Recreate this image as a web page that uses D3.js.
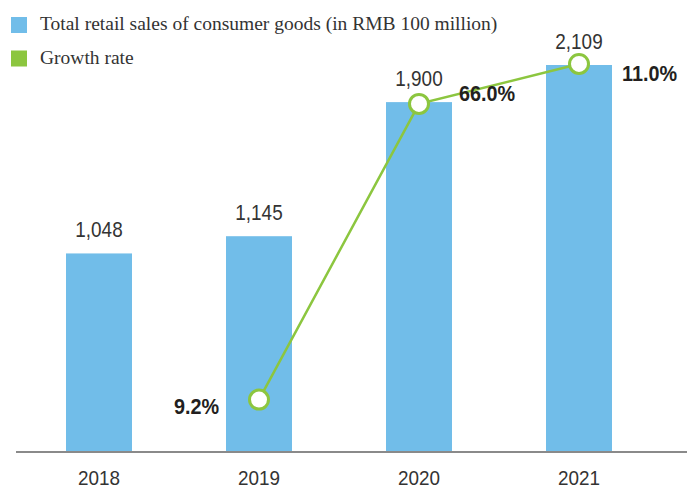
<!DOCTYPE html>
<html>
<head>
<meta charset="utf-8">
<script src="https://cdn.jsdelivr.net/npm/d3@7"></script>
<style>
    body { margin: 0; background: #fff; }
    svg { display: block; }
    .num { font-family: "Liberation Sans", Arial, sans-serif; }
    .legend { font-family: "Liberation Serif", "Times New Roman", serif; fill: #333; }
</style>
</head>
<body>
<div id="chart"></div>
<script>
var years = ["2018", "2019", "2020", "2021"];
var sales = [1048, 1145, 1900, 2109];
var growth = [null, 9.2, 66.0, 11.0];
// where the growth marker sits, in sales units (the original line is not to scale)
var growthLevel = [null, 225, 1890, 2115];
var legendItems = ["Total retail sales of consumer goods (in RMB 100 million)", "Growth rate"];

var width = 687, height = 488;
var blue = "#71bde9", green = "#8cc63f";

var svg = d3.select("#chart").append("svg")
    .attr("width", width)
    .attr("height", height);

var x = d3.scaleBand()
    .domain(years)
    .range([19, 659]);

var y = d3.scaleLinear()
    .domain([-70, 2109])
    .range([452, 65]);

var barW = x.bandwidth() * 0.4125;
var cx = function(d) { return x(d) + x.bandwidth() / 2; };

// no narrow font installed, so squeeze the sans horizontally
var narrow = function(px, py, sx) {
    return "translate(" + px + "," + py + ") scale(" + sx + ",1)";
};

// bars
svg.selectAll("rect.bar")
    .data(sales)
    .enter()
    .append("rect")
    .attr("class", "bar")
    .attr("x", function(d, i) { return cx(years[i]) - barW / 2; })
    .attr("y", function(d) { return y(d); })
    .attr("width", barW)
    .attr("height", function(d) { return y(-70) - y(d); })
    .attr("fill", blue);

// value labels
svg.selectAll("text.val")
    .data(sales)
    .enter()
    .append("text")
    .attr("class", "val num")
    .attr("transform", function(d, i) { return narrow(cx(years[i]), y(d) - 16, 0.86); })
    .attr("text-anchor", "middle")
    .style("font-size", "22px")
    .style("fill", "#333")
    .text(d3.format(","));

// baseline axis
var axis = svg.append("g")
    .attr("transform", "translate(0," + y(-70) + ")");
axis.append("line")
    .attr("x1", 16)
    .attr("x2", width)
    .attr("stroke", "#8a8a8a")
    .attr("stroke-width", 2);
axis.selectAll("text.tick")
    .data(x.domain())
    .enter()
    .append("text")
    .attr("class", "tick num")
    .attr("transform", function(d) { return narrow(cx(d), 33, 0.9); })
    .attr("text-anchor", "middle")
    .style("font-size", "21px")
    .style("fill", "#333")
    .text(function(d) { return d; });

// growth line
var pts = [];
growth.forEach(function(g, i) {
    if (g !== null) pts.push({ year: years[i], g: g, level: growthLevel[i] });
});

var line = d3.line()
    .x(function(d) { return cx(d.year); })
    .y(function(d) { return y(d.level); });

svg.append("path")
    .datum(pts)
    .attr("d", line)
    .attr("fill", "none")
    .attr("stroke", green)
    .attr("stroke-width", 2.5);

svg.selectAll("circle.pt")
    .data(pts)
    .enter()
    .append("circle")
    .attr("class", "pt")
    .attr("cx", function(d) { return cx(d.year); })
    .attr("cy", function(d) { return y(d.level); })
    .attr("r", 9.5)
    .attr("fill", "#fff")
    .attr("stroke", green)
    .attr("stroke-width", 3);

// growth labels: [dx, dy, anchor]
var labelPos = [[-40, 14, "end"], [40, -3, "start"], [43, 17, "start"]];
svg.selectAll("text.gr")
    .data(pts)
    .enter()
    .append("text")
    .attr("class", "gr num")
    .attr("transform", function(d, i) {
        return narrow(cx(d.year) + labelPos[i][0], y(d.level) + labelPos[i][1], 0.9);
    })
    .attr("text-anchor", function(d, i) { return labelPos[i][2]; })
    .style("font-size", "22px")
    .style("font-weight", "bold")
    .style("fill", "#231f20")
    .text(function(d) { return d.g.toFixed(1) + "%"; });

// legend
var legend = svg.selectAll("g.legend")
    .data(legendItems)
    .enter()
    .append("g")
    .attr("class", "legend")
    .attr("transform", function(d, i) { return "translate(11," + (17 + i * 33.5) + ")"; });
legend.append("rect")
    .attr("width", 16)
    .attr("height", 16)
    .attr("fill", function(d, i) { return i === 0 ? blue : green; });
legend.append("text")
    .attr("x", 29)
    .attr("y", 13)
    .style("font-size", "19.5px")
    .text(function(d) { return d; });
</script>
</body>
</html>
